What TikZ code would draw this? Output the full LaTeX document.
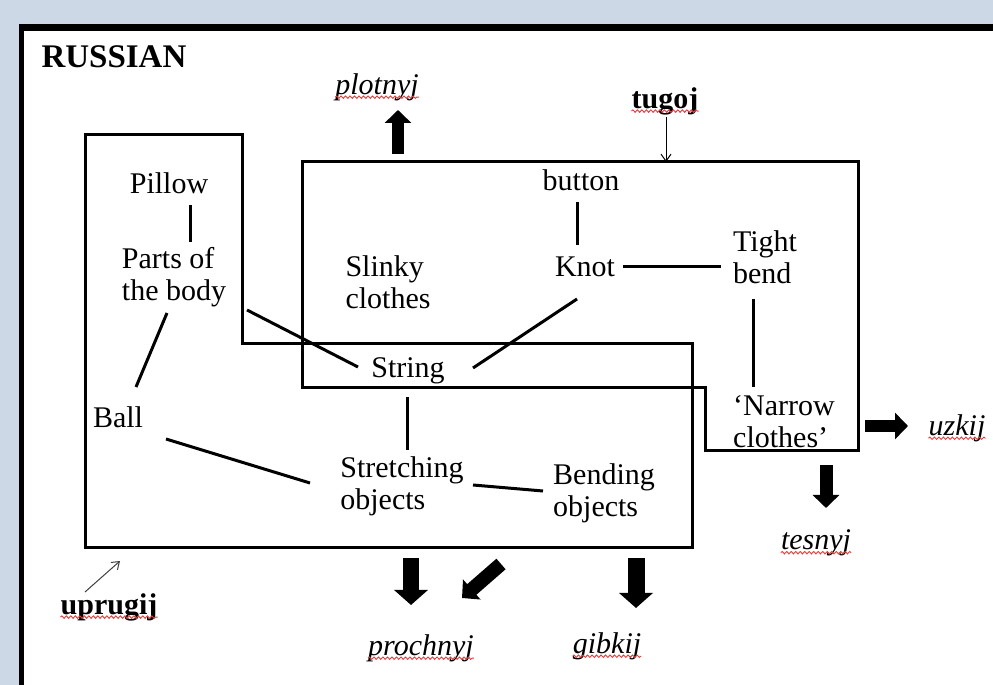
\documentclass[tikz,border=0pt]{standalone}
\usepackage{fontspec}
\setmainfont{Liberation Serif}
\usetikzlibrary{arrows.meta,decorations.pathmorphing}

\definecolor{pagebg}{RGB}{205,216,230}
\definecolor{spellred}{RGB}{226,62,62}
\newcommand{\lbl}{\fontsize{30}{32}\selectfont}

\tikzset{
  word/.style={font=\lbl, align=left},
  term/.style={font=\lbl\itshape, inner xsep=0pt},
  key/.style={font=\lbl\bfseries, inner xsep=0pt},
  box/.style={line width=3pt, line join=miter},
  link/.style={line width=3pt},
  thickarrow/.style={line width=12pt, -{Triangle[length=13pt,width=26pt]}},
  fatarrow/.style={line width=16pt, -{Triangle[length=15pt,width=33pt]}},
  thinarrow/.style={line width=1pt, -{Straight Barb[length=7pt,width=10pt]}},
  spellmark/.style={spellred, line width=0.9pt, decorate,
    decoration={snake, amplitude=1.2pt, segment length=4.5pt}}
}

\begin{document}
\begin{tikzpicture}[x=1pt,y=1pt]
\useasboundingbox (0,0) rectangle (993,685);
\fill[pagebg] (0,0) rectangle (993,685);
\fill[white] (24,0) rectangle (993,654);
\fill[black] (19,0) rectangle (24,661);
\fill[black] (19,654) rectangle (993,661);

% the two overlapping groups
\draw[box] (85,550) -- (242,550) -- (242,341) -- (692,341) -- (692,137) -- (85,137) -- cycle;
\draw[box] (302,523) -- (858,523) -- (858,234) -- (705,234) -- (705,297) -- (302,297) -- cycle;

\node[font=\fontsize{33}{36}\selectfont\bfseries, anchor=west] (russian) at (38,628) {RUSSIAN};

\node[word] (pillow) at (169,502) {Pillow};
\node[word] (parts) at (174,408) {Parts of\\the body};
\node[word] (ball) at (118,268) {Ball};
\node[word] (slinky) at (388,403) {Slinky\\clothes};
\node[word] (button) at (581,505) {button};
\node[word] (knot) at (585,418) {Knot};
\node[word] (tight) at (765,428) {Tight\\bend};
\node[word] (string) at (408,314) {String};
\node[word] (narrow) at (784,263) {`Narrow\\clothes'};
\node[word] (stretch) at (402,199) {Stretching\\objects};
\node[word] (bending) at (604,192) {Bending\\objects};

\node[term] (plotnyj) at (377,598) {plotnyj};
\node[key] (tugoj) at (665,584) {tugoj};
\node[term] (uzkij) at (957,257) {uzkij};
\node[term] (tesnyj) at (816,142) {tesnyj};
\node[key] (uprugij) at (109,78) {uprugij};
\node[term] (prochnyj) at (421,37) {prochnyj};
\node[term] (gibkij) at (607,39) {gibkij};

\foreach \a/\ax/\ay/\b/\bx/\by in {
  pillow/21/-22/parts/16/35,
  parts/-7/-36/ball/18/30,
  parts/73/-33/string/-50/4,
  button/-4/-22/knot/-8/22,
  knot/38/0/tight/-44/-10,
  knot/-8/-32/string/65/3,
  tight/-12/-42/narrow/-31/35,
  string/-1/-26/stretch/5/36,
  ball/48/-22/stretch/-92/3,
  stretch/71/1/bending/-61/2}
  \draw[link] ([shift={(\ax,\ay)}]\a.center) -- ([shift={(\bx,\by)}]\b.center);

\coordinate (tugojhit) at (666,523);
\coordinate (uprugijhit) at (120,124);
\draw[thinarrow] ([shift={(1,-16)}]tugoj.center) -- (tugojhit);
\draw[thinarrow, black!75] ([shift={(-24,15)}]uprugij.center) -- (uprugijhit);

\coordinate (plotnyjtail) at (398,531);
\coordinate (uzkijtail) at (865,259);
\coordinate (tesnyjtail) at (826,220);
\coordinate (prochtail) at (411,127);
\coordinate (prochtail2) at (501,121);
\coordinate (gibkijtail) at (636,127);
\draw[thickarrow] (plotnyjtail) -- ([shift={(21,-23)}]plotnyj.center);
\draw[thickarrow] (uzkijtail) -- ([shift={(-49,2)}]uzkij.center);
\draw[thickarrow, line width=13pt] (tesnyjtail) -- ([shift={(10,35)}]tesnyj.center);
\draw[fatarrow] (prochtail) -- ([shift={(-10,43)}]prochnyj.center);
\draw[thickarrow, line width=14pt] (prochtail2) -- ([shift={(41,50)}]prochnyj.center);
\draw[fatarrow, line width=17pt] (gibkijtail) -- ([shift={(29,38)}]gibkij.center);

% wavy underlines
\foreach \w in {plotnyj,tugoj,uzkij,tesnyj,uprugij,prochnyj,gibkij}
  \draw[spellmark] ([yshift=-3pt]\w.base west) -- ([yshift=-3pt]\w.base east);
\end{tikzpicture}
\end{document}
